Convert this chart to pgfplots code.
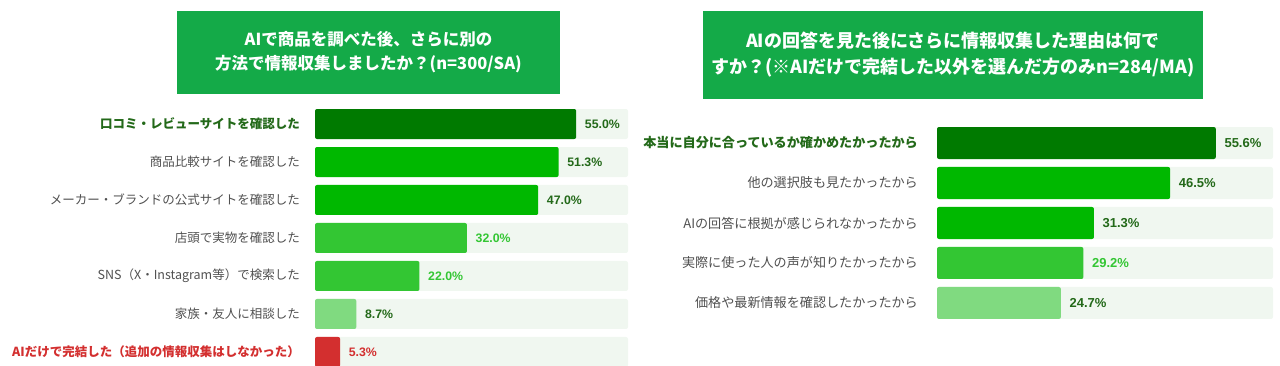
\documentclass[border=0pt]{standalone}
\usepackage{fontspec}
\usepackage{pgfplots}
\pgfplotsset{compat=1.18}
\setmainfont{Noto Sans CJK JP}
\newfontfamily\numfont{Liberation Sans}

\definecolor{titlegreen}{RGB}{20,170,72}
\definecolor{track}{RGB}{240,247,240}
\definecolor{gdark}{RGB}{0,122,0}
\definecolor{gmid}{RGB}{0,184,0}
\definecolor{glight}{RGB}{51,198,51}
\definecolor{gpale}{RGB}{128,218,128}
\definecolor{redbar}{RGB}{211,47,47}
\definecolor{txtdark}{RGB}{35,105,25}
\definecolor{txtgray}{RGB}{80,80,80}

\pgfplotsset{
  panel/.style={scale only axis, axis line style={draw=none}, major tick length=0pt,
    xtick=\empty, y dir=reverse, clip=false, xmin=0,
    yticklabel style={anchor=east, inner sep=0pt, text=txtgray}},
  trk/.style={xbar, bar shift=0pt, bar width=#1, fill=track, draw=none, rounded corners=2pt},
  bb/.style n args={4}{xbar, bar shift=0pt, bar width=#3, fill=#1, draw=none, rounded corners=2pt,
    point meta=x,
    nodes near coords={\pgfmathprintnumber[fixed,fixed zerofill,precision=1,assume math mode=true]{\pgfplotspointmeta}\%},
    every node near coord/.append style={font=\numfont\bfseries\fontsize{#4}{14}\selectfont,
      text=#2, anchor=west, inner sep=0pt, xshift=8.5pt}},
}

\begin{document}
\begin{tikzpicture}
\path[use as bounding box] (0pt,0pt) rectangle (1280pt,-366pt);

% ---------- Left panel ----------
\node[fill=titlegreen, text=white, minimum width=383pt, minimum height=83pt, align=center,
  inner sep=0pt, font=\bfseries\fontsize{16.5}{24}\selectfont] at (368.5pt,-52.5pt)
  {AIで商品を調べた後、さらに別の\\方法で情報収集しましたか？(n=300/SA)};

\begin{axis}[panel, at={(315pt,-105pt)}, anchor=north west,
  width=313pt, height=266pt, xmax=65.9, ymin=-0.5, ymax=6.5,
  ytick={0,1,2,3,4,5,6},
  yticklabels={{\bfseries\color{txtdark}口コミ・レビューサイトを確認した},
    {商品比較サイトを確認した},
    {メーカー・ブランドの公式サイトを確認した},
    {店頭で実物を確認した},
    {SNS（X・Instagram等）で検索した},
    {家族・友人に相談した},
    {\bfseries\color{redbar}AIだけで完結した（追加の情報収集はしなかった）}},
  yticklabel style={xshift=-15pt, font=\fontsize{12.5}{14}\selectfont}]
\addplot[trk=30pt] coordinates {(65.9,0) (65.9,1) (65.9,2) (65.9,3) (65.9,4) (65.9,5) (65.9,6)};
\addplot[bb={gdark}{txtdark}{30pt}{12.3}] coordinates {(55.0,0)};
\addplot[bb={gmid}{txtdark}{30pt}{12.3}] coordinates {(51.3,1)};
\addplot[bb={gmid}{txtdark}{30pt}{12.3}] coordinates {(47.0,2)};
\addplot[bb={glight}{glight}{30pt}{12.3}] coordinates {(32.0,3)};
\addplot[bb={glight}{glight}{30pt}{12.3}] coordinates {(22.0,4)};
\addplot[bb={gpale}{txtdark}{30pt}{12.3}] coordinates {(8.7,5)};
\addplot[bb={redbar}{redbar}{30pt}{12.3}] coordinates {(5.3,6)};
\end{axis}

% ---------- Right panel ----------
\node[fill=titlegreen, text=white, minimum width=500pt, minimum height=88pt, align=center,
  inner sep=0pt, font=\bfseries\fontsize{18}{26}\selectfont] at (953pt,-55pt)
  {AIの回答を見た後にさらに情報収集した理由は何で\\すか？(※AIだけで完結した以外を選んだ方のみn=284/MA)};

\begin{axis}[panel, at={(937pt,-123pt)}, anchor=north west,
  width=336pt, height=200pt, xmax=67.0, ymin=-0.5, ymax=4.5,
  ytick={0,1,2,3,4},
  yticklabels={{\bfseries\color{txtdark}本当に自分に合っているか確かめたかったから},
    {他の選択肢も見たかったから},
    {AIの回答に根拠が感じられなかったから},
    {実際に使った人の声が知りたかったから},
    {価格や最新情報を確認したかったから}},
  yticklabel style={xshift=-19pt, font=\fontsize{13.1}{15}\selectfont}]
\addplot[trk=32pt] coordinates {(67.0,0) (67.0,1) (67.0,2) (67.0,3) (67.0,4)};
\addplot[bb={gdark}{txtdark}{32pt}{13}] coordinates {(55.6,0)};
\addplot[bb={gmid}{txtdark}{32pt}{13}] coordinates {(46.5,1)};
\addplot[bb={gmid}{txtdark}{32pt}{13}] coordinates {(31.3,2)};
\addplot[bb={glight}{glight}{32pt}{13}] coordinates {(29.2,3)};
\addplot[bb={gpale}{txtdark}{32pt}{13}] coordinates {(24.7,4)};
\end{axis}
\end{tikzpicture}
\end{document}
